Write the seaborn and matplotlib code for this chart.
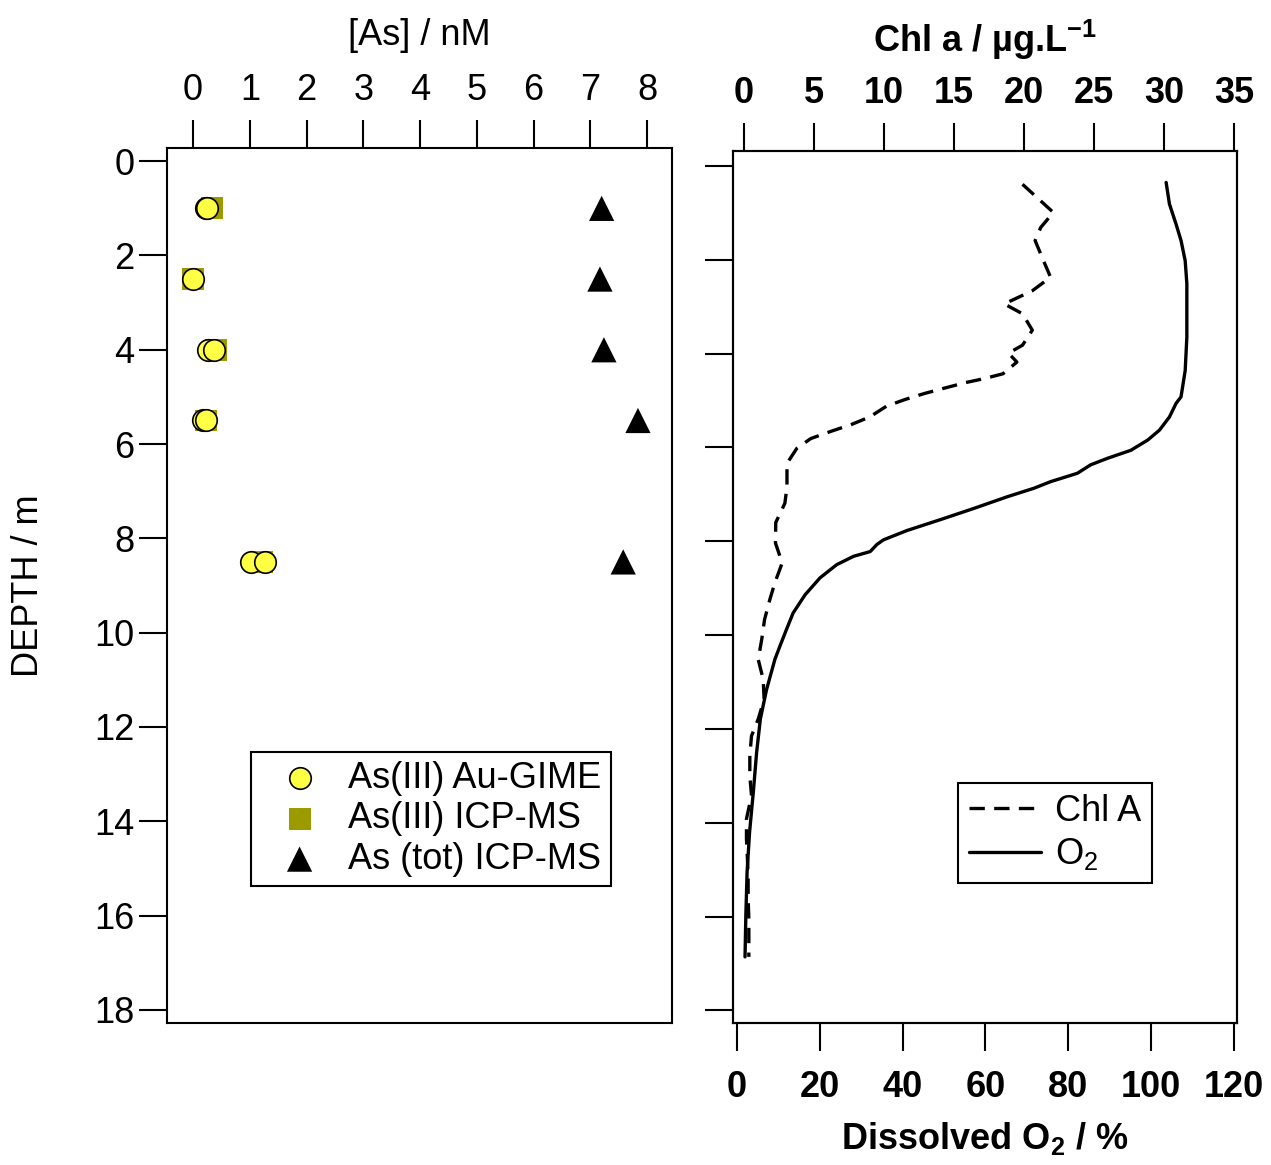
import numpy as np
import pandas as pd
import seaborn as sns
import matplotlib.pyplot as plt

sns.set_style("white")
plt.rcParams['font.family'] = ['Liberation Sans', 'DejaVu Sans']
plt.rcParams['mathtext.fontset'] = 'custom'
plt.rcParams['mathtext.rm'] = 'Liberation Sans'
plt.rcParams['mathtext.bf'] = 'Liberation Sans:bold'
plt.rcParams['text.color'] = 'black'
plt.rcParams['axes.labelcolor'] = 'black'
plt.rcParams['xtick.color'] = 'black'
plt.rcParams['ytick.color'] = 'black'

# ---- arsenic data (left panel) ----
depth_gime = [1.0, 1.0, 2.5, 4.0, 4.0, 5.5, 5.5, 8.5, 8.5]
as3_gime = [0.22, 0.24, 0.0, 0.27, 0.36, 0.18, 0.23, 1.02, 1.27]
depth_icp = [1.0, 2.5, 4.0, 5.5, 8.5]
as3_icp = [0.34, 0.0, 0.40, 0.235, 1.22]
astot_icp = [7.20, 7.17, 7.24, 7.84, 7.58]

# ---- chlorophyll profile ----
chl_depth = [0.39, 0.99, 1.31, 1.59, 2.02, 2.37, 2.66, 2.94, 3.15, 3.5, 3.82, 3.99,
             4.18, 4.43, 4.53, 4.62, 4.73, 4.85, 4.98, 5.12, 5.35, 5.51, 5.65, 5.81,
             6.02, 6.34, 6.84, 7.19, 7.6, 8.04, 8.46, 8.89, 9.24, 9.67, 10.09, 10.52,
             10.94, 11.37, 11.79, 12.15, 12.57, 13.0, 13.42, 13.92, 14.34, 14.77,
             15.19, 15.62, 16.05, 16.47, 16.86]
chl = [19.9, 22.1, 21.2, 20.8, 21.4, 21.9, 20.6, 18.6, 19.9, 20.6, 19.9, 18.9,
       19.5, 18.5, 17.2, 15.8, 14.4, 12.9, 11.5, 10.2, 9.0, 7.7, 6.3, 4.8,
       3.8, 3.1, 3.1, 2.95, 2.3, 2.28, 2.76, 2.23, 1.88, 1.5, 1.3, 1.05,
       1.4, 1.47, 1.05, 0.57, 0.45, 0.45, 0.57, 0.21, 0.21, 0.28,
       0.33, 0.33, 0.38, 0.38, 0.38]

# ---- dissolved oxygen profile ----
o2_depth = [0.35, 0.81, 1.24, 1.59, 2.02, 2.51, 3.08, 3.65, 4.36, 4.92, 5.06, 5.35,
            5.63, 5.84, 6.06, 6.23, 6.37, 6.55, 6.73, 6.87, 7.05, 7.30, 7.54, 7.77,
            7.97, 8.07, 8.22, 8.32, 8.50, 8.78, 9.14, 9.53, 9.88, 10.24, 10.52,
            11.16, 11.79, 12.50, 13.35, 14.20, 15.05, 15.97, 16.86]
o2 = [103.6, 104.4, 106.0, 107.2, 108.2, 108.6, 108.6, 108.6, 108.2, 107.2, 106.0, 104.4,
      102.0, 99.2, 95.1, 89.5, 85.4, 82.2, 75.7, 71.7, 65.3, 57.2, 49.1, 41.1,
      35.4, 33.8, 32.2, 28.2, 24.1, 20.1, 16.5, 13.6, 12.0, 10.4, 9.2,
      7.2, 5.7, 4.8, 4.0, 3.1, 2.5, 2.2, 2.0]

depth_ticks = np.arange(0, 19, 2)
as_ticks = np.arange(0, 9, 1)
chl_ticks = np.arange(0, 36, 5)
o2_ticks = np.arange(0, 121, 20)

W, H = 1271, 1165
fig = plt.figure(figsize=(W / 100, H / 100), dpi=100)
ax1 = fig.add_axes([167 / W, 1 - 1023 / H, 505 / W, 875 / H])
ax2 = fig.add_axes([733 / W, 1 - 1023 / H, 504 / W, 872 / H])

FS = 26
TICK = dict(direction='out', length=20, width=1.5, colors='black', labelsize=FS)

# ---------------- left panel ----------------
sns.scatterplot(x=as3_icp, y=depth_icp, marker='s', s=250, color='#9b9b00',
                edgecolor='none', label='As(III) ICP-MS', ax=ax1, zorder=2)
sns.scatterplot(x=as3_gime, y=depth_gime, marker='o', s=240, color='#ffff44',
                edgecolor='black', linewidth=1.2, label='As(III) Au-GIME', ax=ax1, zorder=3)
sns.scatterplot(x=astot_icp, y=depth_icp, marker='^', s=330, color='black',
                edgecolor='none', label='As (tot) ICP-MS', ax=ax1, zorder=3)

ax1.set_xlim(-0.46, 8.44)
ax1.set_ylim(18.28, -0.28)
ax1.xaxis.tick_top()
ax1.set_xticks(as_ticks)
ax1.set_yticks(depth_ticks)
ax1.tick_params(axis='x', which='both', bottom=False, top=True, pad=8.5, **TICK)
ax1.tick_params(axis='y', which='both', left=True, right=False, pad=3.5, **TICK)
ax1.xaxis.set_label_position('top')
ax1.set_xlabel('[As] / nM', fontsize=FS, va='center')
ax1.xaxis.set_label_coords(0.5, 1.129)
ax1.set_ylabel('DEPTH / m', fontsize=FS, va='center')
ax1.yaxis.set_label_coords(-0.275, 0.5)

h, l = ax1.get_legend_handles_labels()
order = [1, 0, 2]
leg1 = ax1.legend([h[i] for i in order], [l[i] for i in order], loc='upper left',
                  bbox_to_anchor=(0.166, 0.31), borderaxespad=0, fontsize=FS,
                  frameon=True, fancybox=False, edgecolor='black', framealpha=1,
                  labelspacing=0.15, handletextpad=0.25, borderpad=0.25, handlelength=2.2)
leg1.get_frame().set_linewidth(1.5)

# ---------------- right panel ----------------
axt = ax2.twiny()
sns.lineplot(x=o2, y=o2_depth, sort=False, estimator=None, color='black',
             linewidth=2.4, label='O$_2$', ax=ax2)
sns.lineplot(x=chl, y=chl_depth, sort=False, estimator=None, color='black',
             linewidth=2.4, dashes=False, ax=axt, label='Chl A')
axt.lines[0].set_dashes([4.6, 2.8])

ax2.set_xlim(-0.9, 120.7)
axt.set_xlim(-0.75, 35.2)
ax2.set_ylim(18.27, -0.32)
ax2.set_xticks(o2_ticks)
axt.set_xticks(chl_ticks)
ax2.set_yticks(depth_ticks)
ax2.set_yticklabels([])
ax2.tick_params(axis='x', which='both', bottom=True, top=False, pad=14, **TICK)
ax2.tick_params(axis='y', which='both', left=True, right=False, **TICK)
axt.tick_params(axis='x', which='both', top=True, bottom=False, pad=9, **TICK)
for lab in ax2.get_xticklabels() + axt.get_xticklabels():
    lab.set_fontweight('bold')

ax2.set_xlabel(r'Dissolved O$_\mathbf{2}$ / %', fontsize=FS, fontweight='bold', va='center')
ax2.xaxis.set_label_coords(0.5, -0.132)
axt.set_xlabel(r'Chl a / µg.L$^\mathbf{-1}$', fontsize=FS, fontweight='bold', va='center')
axt.xaxis.set_label_coords(0.5, 1.127)
ax2.set_ylabel('')

if ax2.get_legend() is not None:
    ax2.get_legend().remove()
h2, l2 = ax2.get_legend_handles_labels()
ht, lt = axt.get_legend_handles_labels()
leg2 = axt.legend(ht + h2, lt + l2, loc='upper left', bbox_to_anchor=(0.446, 0.275),
                  borderaxespad=0, fontsize=FS, frameon=True, fancybox=False,
                  edgecolor='black', framealpha=1, labelspacing=0.2,
                  handletextpad=0.4, borderpad=0.3, handlelength=2.0)
leg2.get_frame().set_linewidth(1.5)

for a in (ax1, ax2, axt):
    for sp in a.spines.values():
        sp.set_visible(True)
        sp.set_color('black')
        sp.set_linewidth(1.5)

fig.savefig('out.png', dpi=100)
